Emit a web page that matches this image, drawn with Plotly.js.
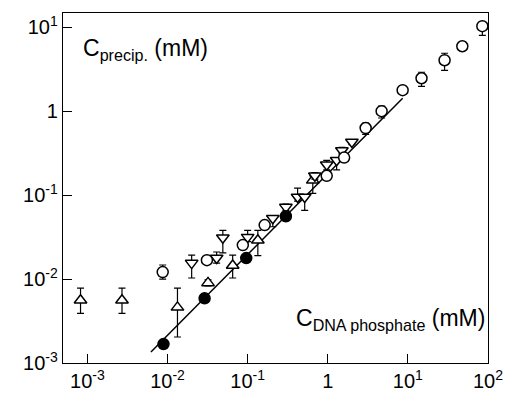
<!DOCTYPE html>
<html>
<head>
<meta charset="utf-8">
<script src="https://cdn.plot.ly/plotly-3.0.1.min.js"></script>
<style>html,body{margin:0;padding:0;background:#fff;}#chart{width:507px;height:400px;}</style>
</head>
<body>
<div id="chart"></div>
<script>
// Open up-triangles
const triUpX = [0.00082, 0.0027, 0.0133, 0.032, 0.065, 0.134, 0.65];
const triUpY = [0.0056, 0.0056, 0.0046, 0.0090, 0.0145, 0.029, 0.15];
const triUpHi = [0.0078, 0.0078, 0.0078, 0.0098, 0.0193, 0.038, 0.17];
const triUpLo = [0.0039, 0.0039, 0.00204, 0.0083, 0.0103, 0.019, 0.105];

// Open down-triangles
const triDnX = [0.02, 0.041, 0.049, 0.1, 0.206, 0.3, 0.42, 0.515, 0.69, 0.97, 1.29, 1.5, 2.0];
const triDnY = [0.0155, 0.0178, 0.031, 0.0316, 0.053, 0.072, 0.095, 0.095, 0.17, 0.23, 0.26, 0.34, 0.43];
const triDnHi = [0.0193, 0.021, 0.038, 0.038, 0.056, 0.078, 0.121, 0.10, 0.185, 0.26, 0.28, 0.37, 0.46];
const triDnLo = [0.0103, 0.0155, 0.0205, 0.028, 0.042, 0.066, 0.085, 0.066, 0.155, 0.20, 0.20, 0.31, 0.40];

// Open circles
const circX = [0.0087, 0.031, 0.087, 0.163, 0.97, 1.6, 2.97, 4.7, 8.6, 14.8, 28.7, 47.8, 85];
const circY = [0.0121, 0.0168, 0.0254, 0.044, 0.17, 0.28, 0.63, 1.0, 1.78, 2.47, 4.05, 5.94, 10.3];
const circHi = [0.0147, 0.018, 0.027, 0.047, 0.18, 0.30, 0.72, 1.15, 1.85, 2.91, 4.9, 6.4, 11.5];
const circLo = [0.010, 0.0158, 0.024, 0.041, 0.16, 0.26, 0.53, 0.83, 1.7, 1.98, 3.07, 5.5, 8.0];

// Filled circles
const dotX = [0.0089, 0.029, 0.096, 0.3];
const dotY = [0.00168, 0.0059, 0.0178, 0.056];
const dotHi = [0.00185, 0.0066, 0.0195, 0.062];
const dotLo = [0.00155, 0.0053, 0.016, 0.051];

// Fitted line
const fitX = [0.0062, 8.6];
const fitY = [0.00135, 1.43];

// Tick labels
const xTickVals = [0.001, 0.01, 0.1, 1, 10, 100];
const xTickText = ['10<sup>-3</sup>', '10<sup>-2</sup>', '10<sup>-1</sup>', '1', '10<sup>1</sup>', '10<sup>2</sup>'];
const yTickVals = [0.001, 0.01, 0.1, 1, 10];
const yTickText = ['10<sup>-3</sup>', '10<sup>-2</sup>', '10<sup>-1</sup>', '1', '10<sup>1</sup>'];

function errs(y, hi, lo) {
  return {
    type: 'data', symmetric: false,
    array: y.map((v, i) => hi[i] - v),
    arrayminus: y.map((v, i) => v - lo[i]),
    color: '#000', thickness: 1.2, width: 3.5
  };
}
function marks(sym, fill, size) {
  return {symbol: sym, size: size, color: fill, line: {color: '#000', width: 1.5}};
}

const traces = [
  {x: fitX, y: fitY, mode: 'lines', line: {color: '#000', width: 1.5}, hoverinfo: 'skip'},
  {x: triUpX, y: triUpY, mode: 'markers', marker: marks('triangle-up', '#fff', 11), error_y: errs(triUpY, triUpHi, triUpLo)},
  {x: triDnX, y: triDnY, mode: 'markers', marker: marks('triangle-down', '#fff', 11), error_y: errs(triDnY, triDnHi, triDnLo)},
  {x: circX, y: circY, mode: 'markers', marker: marks('circle', '#fff', 11), error_y: errs(circY, circHi, circLo)},
  {x: dotX, y: dotY, mode: 'markers', marker: marks('circle', '#000', 11), error_y: errs(dotY, dotHi, dotLo)}
];

const axisCommon = {
  type: 'log', showgrid: false, zeroline: false,
  showline: true, linecolor: '#000', linewidth: 1.2, mirror: true,
  ticks: 'inside', ticklen: 9, tickwidth: 1, tickcolor: '#000',
  tickfont: {family: 'Liberation Sans, Arial, sans-serif', size: 20, color: '#000'}
};

const layout = {
  width: 507, height: 400,
  margin: {l: 63, r: 19, t: 13, b: 37},
  paper_bgcolor: '#fff', plot_bgcolor: '#fff',
  showlegend: false,
  font: {family: 'Liberation Sans, Arial, sans-serif', color: '#000'},
  xaxis: Object.assign({}, axisCommon, {range: [-3.305, 2.0], tickvals: xTickVals, ticktext: xTickText}),
  yaxis: Object.assign({}, axisCommon, {range: [-3, 1.17], tickvals: yTickVals, ticktext: yTickText}),
  annotations: [
    {xref: 'paper', yref: 'paper', x: 0.043, y: 0.895, xanchor: 'left', yanchor: 'middle', showarrow: false,
     text: 'C<sub>precip.</sub> (mM)', font: {size: 23, color: '#000', family: 'Liberation Sans, Arial, sans-serif'}},
    {xref: 'paper', yref: 'paper', x: 0.997, y: 0.125, xanchor: 'right', yanchor: 'middle', showarrow: false,
     text: 'C<sub>DNA phosphate</sub> (mM)', font: {size: 23, color: '#000', family: 'Liberation Sans, Arial, sans-serif'}}
  ]
};

Plotly.newPlot('chart', traces, layout, {staticPlot: true, displayModeBar: false});
</script>
</body>
</html>
